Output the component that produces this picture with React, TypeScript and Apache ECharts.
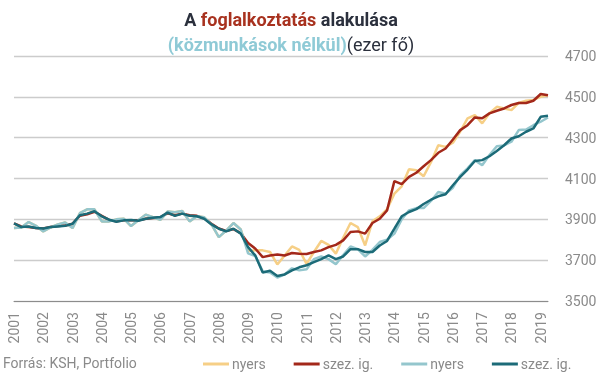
import React, { useEffect, useRef } from "react";
import * as echarts from "echarts";

const years = Array.from({ length: 19 }, (_, i) => 2001 + i);
const categories: string[] = [];
years.forEach((y) => {
  for (let q = 1; q <= 4; q++) {
    if (y === 2019 && q > 2) continue;
    categories.push(`${y}Q${q}`);
  }
});

const yTicks = [3500, 3700, 3900, 4100, 4300, 4500, 4700];

// Összesen (nyers)
const totalRaw = [
  3857, 3860, 3887, 3868,
  3841, 3860, 3875, 3885,
  3857, 3930, 3949, 3949,
  3890, 3890, 3900, 3903,
  3867, 3895, 3923, 3910,
  3897, 3938, 3935, 3941,
  3890, 3915, 3910, 3875,
  3813, 3845, 3882, 3850,
  3745, 3748, 3748, 3740,
  3679, 3723, 3767, 3750,
  3682, 3740, 3794, 3775,
  3732, 3810, 3882, 3862,
  3772, 3890, 3915, 3950,
  4026, 4062, 4145, 4140,
  4111, 4180, 4263, 4255,
  4275, 4330, 4394, 4410,
  4370, 4420, 4451, 4443,
  4435, 4470, 4481, 4485,
  4500, 4508,
];

// Összesen (szez. ig.)
const totalSa = [
  3880, 3865, 3862, 3858,
  3855, 3862, 3867, 3870,
  3878, 3918, 3925, 3937,
  3917, 3897, 3890, 3895,
  3895, 3895, 3903, 3906,
  3910, 3930, 3920, 3928,
  3920, 3917, 3905, 3878,
  3855, 3843, 3852, 3832,
  3784, 3756, 3715, 3723,
  3728, 3723, 3735, 3732,
  3730, 3740, 3748, 3764,
  3775, 3797, 3838, 3841,
  3830, 3882, 3903, 3944,
  4087, 4072, 4108, 4128,
  4160, 4190, 4226, 4247,
  4291, 4337, 4361, 4399,
  4395, 4419, 4432, 4443,
  4460, 4470, 4470, 4481,
  4514, 4508,
];

// Közmunkások nélkül (nyers)
const exclRaw = [
  3857, 3860, 3887, 3868,
  3841, 3860, 3875, 3885,
  3857, 3930, 3949, 3949,
  3890, 3890, 3900, 3903,
  3867, 3895, 3923, 3910,
  3897, 3938, 3935, 3941,
  3890, 3915, 3910, 3875,
  3813, 3845, 3882, 3850,
  3733, 3720, 3645, 3640,
  3615, 3630, 3660, 3650,
  3655, 3705, 3718, 3705,
  3680, 3725, 3767, 3754,
  3718, 3750, 3789, 3800,
  3830, 3900, 3944, 3955,
  3955, 3990, 4034, 4025,
  4055, 4115, 4150, 4190,
  4165, 4215, 4258, 4262,
  4280, 4337, 4340, 4361,
  4378, 4399,
];

// Közmunkások nélkül (szez. ig.)
const exclSa = [
  3880, 3862, 3865, 3858,
  3855, 3862, 3865, 3868,
  3878, 3920, 3928, 3940,
  3915, 3898, 3888, 3895,
  3897, 3893, 3903, 3908,
  3911, 3933, 3917, 3928,
  3917, 3915, 3903, 3875,
  3854, 3841, 3854, 3830,
  3764, 3722, 3640, 3648,
  3622, 3630, 3650, 3665,
  3675, 3690, 3705, 3723,
  3705, 3718, 3754, 3754,
  3740, 3740, 3772, 3794,
  3854, 3915, 3936, 3950,
  3975, 3996, 4013, 4023,
  4067, 4108, 4144, 4186,
  4190, 4209, 4235, 4263,
  4296, 4307, 4329, 4345,
  4402, 4407,
];

const FONT = "Roboto, 'Noto Sans', sans-serif";

export default function App() {
  const ref = useRef<HTMLDivElement>(null);
  useEffect(() => {
    if (!ref.current) return;
    const chart = echarts.init(ref.current, undefined, { renderer: "svg" });
    const lineSeries = (name: string, data: number[], color: string, width: number, z: number) => ({
      name,
      type: "line",
      data,
      symbol: "none",
      z,
      lineStyle: { color, width },
      itemStyle: { color },
    });
    chart.setOption({
      animation: false,
      textStyle: { fontFamily: FONT },
      title: {
        text: "{d|A }{r|foglalkoztatás}{d| alakulása}\n{b|(közmunkások nélkül)}{n|(ezer fő)}",
        left: 286,
        textAlign: "center",
        top: 2,
        textStyle: {
          rich: {
            d: { fontFamily: FONT, fontSize: 18, fontWeight: "bold", color: "#2b303d", lineHeight: 25 },
            r: { fontFamily: FONT, fontSize: 18, fontWeight: "bold", color: "#a8321f", lineHeight: 25 },
            b: { fontFamily: FONT, fontSize: 18, fontWeight: "bold", color: "#8fcad6", lineHeight: 25 },
            n: { fontFamily: FONT, fontSize: 18, fontWeight: "normal", color: "#2b303d", lineHeight: 25 },
          },
        },
      },
      graphic: [
        {
          type: "text",
          left: 3,
          top: 356,
          style: { text: "Forrás: KSH, Portfolio", fill: "#8a8a8a", font: `14px ${FONT}` },
        },
      ],
      legend: {
        left: 198,
        top: 352,
        icon: "rect",
        itemWidth: 26,
        itemHeight: 3,
        itemGap: 28,
        textStyle: { color: "#8a8a8a", fontSize: 14, fontFamily: FONT, padding: [0, 0, 0, -2] },
        data: [
          { name: "nyers" },
          { name: "szez. ig." },
          { name: "nyers " },
          { name: "szez. ig. " },
        ],
        formatter: (n: string) => n.trim(),
      },
      grid: { left: 14, right: 57, top: 56, bottom: 77 },
      xAxis: {
        type: "category",
        data: categories,
        boundaryGap: false,
        axisLine: { show: true, lineStyle: { color: "#8c8c8c", width: 1 } },
        axisTick: { show: false },
        axisLabel: {
          interval: 3,
          rotate: 90,
          margin: 11,
          color: "#8a8a8a",
          fontSize: 14,
          fontFamily: FONT,
          formatter: (v: string) => v.slice(0, 4),
        },
        splitLine: { show: false },
      },
      yAxis: {
        type: "value",
        position: "right",
        min: 3500,
        max: 4700,
        interval: 200,
        axisLine: { show: false },
        axisTick: { show: false },
        axisLabel: {
          margin: 17,
          color: "#8a8a8a",
          fontSize: 14,
          fontFamily: FONT,
          customValues: yTicks,
          formatter: (v: number) => String(v),
        },
        splitLine: { lineStyle: { color: "#cccccc", width: 1.3 } },
      },
      series: [
        lineSeries("nyers", totalRaw, "#f6cf86", 2.5, 2),
        lineSeries("szez. ig.", totalSa, "#a3281a", 2.5, 3),
        lineSeries("nyers ", exclRaw, "#94c6cd", 2.5, 4),
        lineSeries("szez. ig. ", exclSa, "#1c6b78", 2.5, 5),
      ],
    });
    return () => chart.dispose();
  }, []);
  return <div ref={ref} style={{ width: 605, height: 378, position: "fixed", left: 0, top: 0 }} />;
}
